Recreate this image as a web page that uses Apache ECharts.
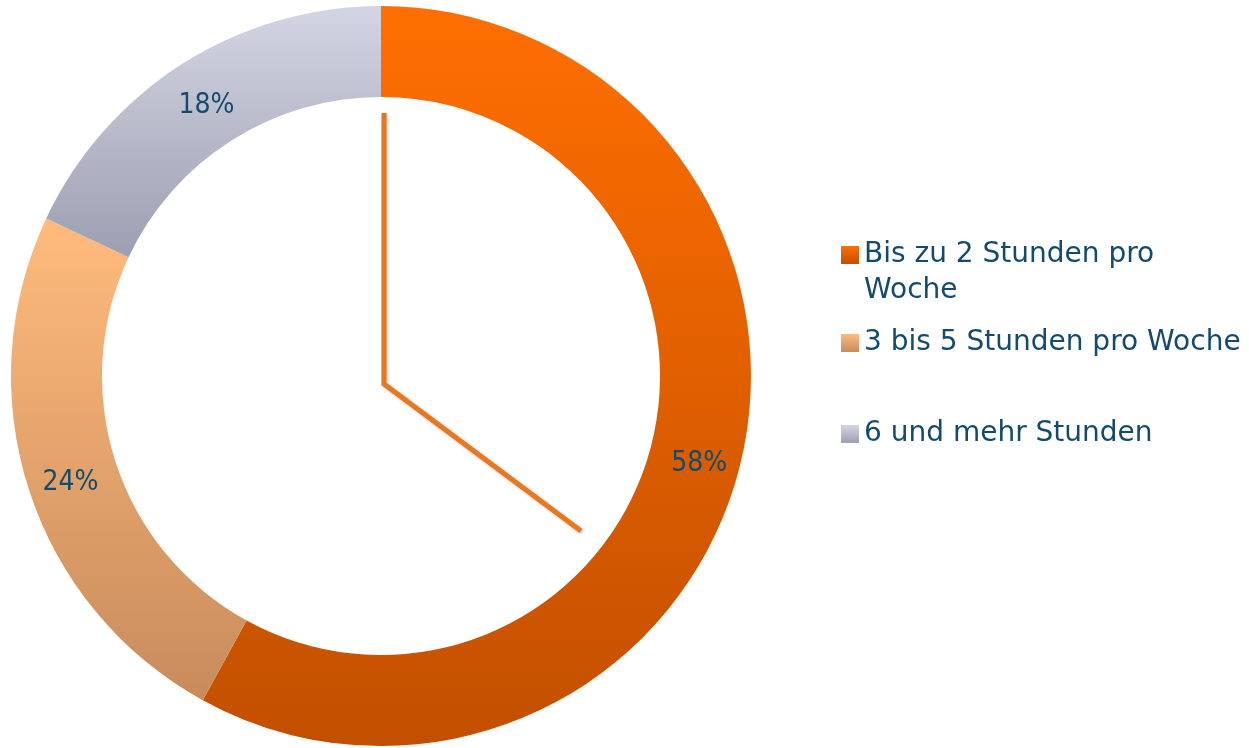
<!DOCTYPE html>
<html>
<head>
<meta charset="utf-8">
<script src="https://cdn.jsdelivr.net/npm/echarts@6/dist/echarts.min.js"></script>
<style>
html,body{margin:0;padding:0;background:#fff;}
#container{width:1249px;height:748px;}
</style>
</head>
<body>
<div id="container"></div>
<script>
var categories=['Bis zu 2 Stunden pro Woche','3 bis 5 Stunden pro Woche','6 und mehr Stunden'];
var values=[58,24,18];
var topColors=['#ff6f00','#ffbb7c','#d4d5e4'];
var bottomColors=['#c24f00','#c88b5c','#9c9fb1'];

var textColor='#134b6d';
var data=[];
for(var i=0;i<categories.length;i++){
	data.push({
		name:categories[i],
		value:values[i],
		itemStyle:{
			color:new echarts.graphic.LinearGradient(0,0,0,1,[
				{offset:0,color:topColors[i]},
				{offset:1,color:bottomColors[i]}
			])
		}
	});
}

function makeLegend(top,name,fmt){
	var l={
		orient:'vertical',
		left:841,
		top:top,
		padding:0,
		icon:'rect',
		itemWidth:18,
		itemHeight:18,
		selectedMode:false,
		data:[name],
		textStyle:{
			color:textColor,
			fontFamily:'DejaVu Sans',
			fontSize:28,
			lineHeight:36
		}
	};
	if(fmt) l.formatter=fmt;
	return l;
}

option={
	animation:false,
	legend:[
		// leere erste Zeile, damit das Symbol neben der ersten Textzeile steht
		makeLegend(201,categories[0],function(name){return '\nBis zu 2 Stunden pro\nWoche';}),
		makeLegend(325,categories[1]),
		makeLegend(416,categories[2])
	],
	series:[
		{
			type:'pie',
			center:[381,376],
			radius:[279,370],
			startAngle:90,
			clockwise:true,
			avoidLabelOverlap:false,
			itemStyle:{borderWidth:0},
			emphasis:{disabled:true},
			label:{
				show:true,
				position:'inside',
				formatter:'{c}%',
				color:textColor,
				fontFamily:'DejaVu Sans Condensed',
				fontSize:28,
				offset:[1,6]
			},
			labelLine:{show:false},
			data:data
		}
	],
	graphic:[
		{
			type:'polyline',
			shape:{points:[[384,113],[384,384],[581,531]]},
			style:{
				stroke:'#e8771e',
				lineWidth:5,
				fill:null,
				shadowBlur:3,
				shadowColor:'rgba(0,0,0,0.25)',
				shadowOffsetX:1,
				shadowOffsetY:1
			}
		}
	]
};

var mychart=echarts.init(document.getElementById('container'));
mychart.setOption(option);
</script>
</body>
</html>
